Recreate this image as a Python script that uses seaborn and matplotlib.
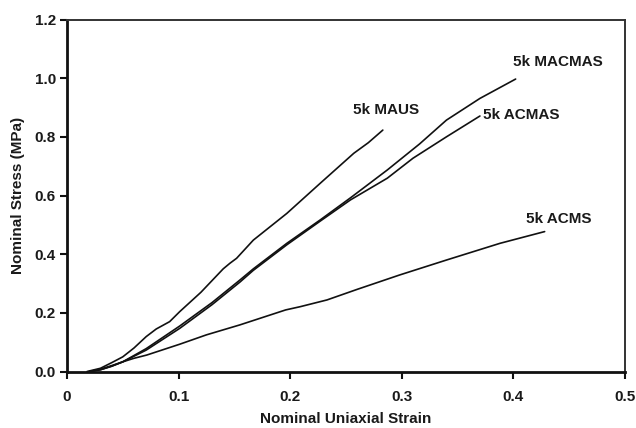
import matplotlib
matplotlib.use("Agg")
import matplotlib.pyplot as plt
import seaborn as sns
import pandas as pd

# Stress-strain curves (nominal strain, nominal stress in MPa)
maus_strain = [0.018, 0.030, 0.040, 0.050, 0.060, 0.071, 0.080, 0.092, 0.101, 0.120,
               0.140, 0.146, 0.152, 0.167, 0.197, 0.227, 0.257, 0.270, 0.283]
maus_stress = [0.000, 0.011, 0.030, 0.050, 0.080, 0.119, 0.145, 0.170, 0.204, 0.270,
               0.350, 0.369, 0.386, 0.448, 0.539, 0.642, 0.744, 0.780, 0.823]

macmas_strain = [0.020, 0.030, 0.040, 0.050, 0.071, 0.101, 0.130, 0.155, 0.167, 0.197,
                 0.227, 0.254, 0.287, 0.316, 0.340, 0.370, 0.402]
macmas_stress = [0.000, 0.006, 0.018, 0.033, 0.078, 0.155, 0.235, 0.312, 0.350, 0.437,
                 0.517, 0.592, 0.687, 0.776, 0.857, 0.931, 0.997]

acmas_strain = [0.020, 0.030, 0.040, 0.050, 0.071, 0.101, 0.130, 0.155, 0.167, 0.197,
                0.227, 0.254, 0.287, 0.310, 0.340, 0.370]
acmas_stress = [0.000, 0.006, 0.018, 0.033, 0.073, 0.147, 0.228, 0.305, 0.345, 0.432,
                0.513, 0.585, 0.659, 0.727, 0.800, 0.871]

acms_strain = [0.020, 0.030, 0.040, 0.050, 0.060, 0.0714, 0.101, 0.125, 0.155, 0.196,
               0.209, 0.233, 0.260, 0.298, 0.340, 0.388, 0.428]
acms_stress = [0.000, 0.008, 0.020, 0.033, 0.045, 0.056, 0.093, 0.125, 0.159, 0.210,
               0.221, 0.244, 0.280, 0.329, 0.380, 0.437, 0.477]

series_names = ["5k MAUS", "5k MACMAS", "5k ACMAS", "5k ACMS"]
label_x = [0.286, 0.440, 0.407, 0.441]
label_y = [0.892, 1.055, 0.875, 0.520]

frames = []
for name, xs, ys in zip(series_names,
                        [maus_strain, macmas_strain, acmas_strain, acms_strain],
                        [maus_stress, macmas_stress, acmas_stress, acms_stress]):
    frames.append(pd.DataFrame({"strain": xs, "stress": ys, "sample": name}))
df = pd.concat(frames, ignore_index=True)

sns.set_theme(style="white")
plt.rcParams["font.family"] = ["Liberation Sans", "DejaVu Sans"]

fig = plt.figure(figsize=(6.36, 4.28), dpi=100)
ax = fig.add_axes([0.1053, 0.132, 0.8774, 0.8224])

sns.lineplot(data=df, x="strain", y="stress", hue="sample", units="sample",
             estimator=None, sort=False, palette=["#111111"] * 4,
             linewidth=1.2, legend=False, ax=ax)

for name, lx, ly in zip(series_names, label_x, label_y):
    ax.text(lx, ly, name, ha="center", va="center", fontsize=11,
            fontweight="bold", color="#1a1a1a")

ax.set_xlim(0, 0.5)
ax.set_ylim(0, 1.2)
ax.set_xticks([0, 0.1, 0.2, 0.3, 0.4, 0.5])
ax.set_xticklabels(["0", "0.1", "0.2", "0.3", "0.4", "0.5"])
ax.set_yticks([0, 0.2, 0.4, 0.6, 0.8, 1.0, 1.2])
ax.set_yticklabels(["0.0", "0.2", "0.4", "0.6", "0.8", "1.0", "1.2"])

ax.tick_params(axis="both", which="both", direction="out", length=5, width=1.5,
               color="#111111", labelsize=11, labelcolor="#1a1a1a",
               bottom=True, left=True, top=False, right=False)
ax.tick_params(axis="x", pad=8)
ax.tick_params(axis="y", pad=3)
for lab in ax.get_xticklabels() + ax.get_yticklabels():
    lab.set_fontweight("bold")

ax.set_xlabel("Nominal Uniaxial Strain", fontsize=11, fontweight="bold",
              color="#1a1a1a", labelpad=6)
ax.set_ylabel("Nominal Stress (MPa)", fontsize=11, fontweight="bold",
              color="#1a1a1a", labelpad=7)

for side in ["left", "bottom"]:
    ax.spines[side].set_linewidth(2.0)
    ax.spines[side].set_color("#111111")
for side in ["top", "right"]:
    ax.spines[side].set_linewidth(1.4)
    ax.spines[side].set_color("#333333")

fig.savefig("out.png", dpi=100)
